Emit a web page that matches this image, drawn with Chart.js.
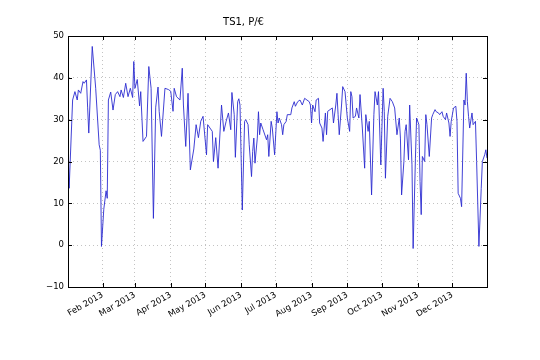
<!DOCTYPE html>
<html>
<head>
<meta charset="utf-8">
<script src="https://cdn.jsdelivr.net/npm/chart.js@4"></script>
<style>
  html, body { margin: 0; padding: 0; background: #fff; }
</style>
</head>
<body>
<canvas id="ts1" width="540" height="360"></canvas>
<script>
// Day of year 2013 (Jan 1 = 0) and price
const days = [
  1, 2, 5, 7, 9, 10, 12, 14, 15, 17, 18, 19, 22, 25, 28, 29, 30, 32, 34, 35,
  36, 38, 40, 42, 44, 46, 47, 49, 51, 53, 55, 57, 58, 59, 61, 63, 64, 66, 69, 71,
  73, 75, 77, 79, 80, 82, 85, 88, 90, 92, 93, 95, 98, 100, 101, 103, 105, 107, 110, 112,
  114, 116, 118, 121, 122, 124, 126, 127, 129, 131, 134, 136, 138, 140, 142, 143, 145, 146, 148, 149,
  150, 152, 154, 155, 157, 158, 160, 161, 162, 163, 165, 166, 167, 168, 170, 173, 174, 175, 177, 178,
  180, 182, 183, 184, 186, 187, 188, 190, 191, 194, 195, 197, 198, 200, 202, 204, 206, 208, 210, 211,
  212, 213, 215, 216, 218, 219, 221, 222, 224, 225, 226, 228, 230, 231, 233, 234, 235, 236, 238, 239,
  241, 243, 245, 246, 247, 248, 250, 251, 253, 254, 256, 258, 259, 261, 262, 264, 266, 267, 269, 270,
  271, 272, 274, 275, 276, 278, 280, 282, 284, 286, 288, 289, 290, 292, 293, 294, 296, 297, 299, 300,
  302, 303, 305, 306, 307, 308, 310, 311, 312, 314, 316, 317, 319, 320, 322, 323, 325, 326, 328, 329,
  331, 332, 333, 335, 337, 338, 339, 341, 342, 344, 345, 346, 347, 348, 349, 351, 352, 354, 355, 357,
  359, 360, 362, 363, 364
];
const prices = [
  24.8, 13.6, 34.7, 36.7, 34.7, 37.1, 36.3, 39.1, 38.7, 39.5, 33, 26.8, 47.5, 37.5, 24, 22.7, -0.3, 8.6, 13, 11.2,
  34.7, 36.6, 32.3, 36, 36.7, 35.5, 37.1, 35.3, 38.7, 35.5, 37.5, 35.3, 43.9, 37.5, 39.6, 33.3, 36.7, 24.8, 26, 42.7,
  37.5, 6.4, 33, 37.8, 32, 26, 37.5, 37.2, 36.8, 32, 37.5, 35.5, 34.7, 42.3, 33.5, 23.6, 36.3, 18, 23, 28.8,
  25.7, 29.6, 30.8, 21.6, 28.8, 28, 27.2, 20, 25.7, 18.4, 33.5, 27.2, 29.6, 31.6, 27.6, 36.5, 31.2, 21, 34.3, 35,
  33.5, 8.4, 29.6, 30, 28.8, 24, 16.4, 22.4, 25.6, 19.6, 25.6, 31.9, 26.4, 29.2, 27.6, 25.2, 26.4, 21.2, 29.6, 28,
  21.6, 31.9, 29.2, 30.4, 28.8, 26.4, 28.8, 29.6, 31.2, 31.2, 32.8, 34.3, 33.2, 34.3, 34.7, 33.5, 35.1, 34.7, 34.3, 33.5,
  29.2, 33.5, 31.9, 34.7, 35.1, 29.2, 28, 24.8, 31.6, 26.4, 32, 32.4, 32.8, 29.2, 33.5, 36.3, 31.2, 26.4, 33.5, 37.9,
  36.7, 30.4, 27.2, 36.7, 35.5, 30.4, 30.8, 32.8, 30.4, 36, 28, 18.4, 31.2, 27.2, 29.6, 12, 31.2, 36.7, 33.5, 36.7,
  28, 19.2, 37.5, 32, 16, 30.8, 35.1, 34.3, 32.8, 26.4, 30.4, 25.6, 12, 20, 27.2, 28.8, 20.4, 33.5, 19.2, -0.8,
  20.8, 30.4, 28.8, 15.2, 7.3, 21.2, 20, 31.2, 28.8, 21.2, 30.4, 31.2, 32.4, 31.9, 31.6, 31.2, 31.9, 30.8, 30, 31.6,
  29.2, 26, 29.6, 32.8, 33.2, 29.6, 12.4, 11.2, 9.2, 34.7, 33.5, 41.1, 34.3, 30.8, 28, 31.6, 28.8, 29.6, 20, -0.3,
  13.6, 20, 21.6, 22.8, 20.8
];

// Month ticks (first day of month, day of year)
const monthDays = [31, 59, 90, 120, 151, 181, 212, 243, 273, 304, 334];
const monthLabels = ['Feb 2013', 'Mar 2013', 'Apr 2013', 'May 2013', 'Jun 2013', 'Jul 2013',
  'Aug 2013', 'Sep 2013', 'Oct 2013', 'Nov 2013', 'Dec 2013'];
const yMin = -10;
const yMax = 50;

const points = days.map((d, i) => ({ x: d, y: prices[i] }));

// Frame around the plot area and small inward tick marks (matplotlib style)
const framePlugin = {
  id: 'frame',
  afterDraw(chart) {
    const { ctx, chartArea: a, scales } = chart;
    ctx.save();
    ctx.strokeStyle = '#000';
    ctx.lineWidth = 1;
    ctx.beginPath();
    for (const t of scales.x.ticks) {
      const px = Math.round(scales.x.getPixelForValue(t.value)) + 0.5;
      ctx.moveTo(px, a.bottom); ctx.lineTo(px, a.bottom - 4);
      ctx.moveTo(px, a.top); ctx.lineTo(px, a.top + 4);
    }
    for (const t of scales.y.ticks) {
      const py = Math.round(scales.y.getPixelForValue(t.value)) + 0.5;
      ctx.moveTo(a.left, py); ctx.lineTo(a.left + 4, py);
      ctx.moveTo(a.right, py); ctx.lineTo(a.right - 4, py);
    }
    ctx.stroke();
    ctx.strokeRect(Math.round(a.left) + 0.5, Math.round(a.top) + 0.5,
      Math.round(a.right - a.left), Math.round(a.bottom - a.top));
    ctx.restore();
  },
};

const font = { family: 'DejaVu Sans', size: 8.5 };

new Chart(document.getElementById('ts1').getContext('2d'), {
  type: 'line',
  data: {
    datasets: [
      {
        label: 'TS1',
        data: points,
        borderColor: '#2b2bd0',
        borderWidth: 0.9,
        pointRadius: 0,
        tension: 0,
        fill: false,
      },
    ],
  },
  options: {
    responsive: false,
    animation: false,
    layout: { padding: { left: 0, right: 53, top: 0, bottom: 0 } },
    plugins: {
      legend: { display: false },
      tooltip: { enabled: false },
      title: {
        display: true,
        text: 'TS1, P/€',
        color: '#000',
        font: { family: 'DejaVu Sans', size: 10, weight: 'normal' },
        padding: { top: 16, bottom: 8 },
      },
    },
    scales: {
      x: {
        type: 'linear',
        min: 1,
        max: 364,
        afterBuildTicks: (scale) => {
          scale.ticks = monthDays.map((v) => ({ value: v }));
        },
        afterFit: (scale) => {
          scale.height = 73;
        },
        ticks: {
          color: '#000',
          font,
          minRotation: 30,
          maxRotation: 30,
          padding: 3,
          callback: (value) => monthLabels[monthDays.indexOf(value)],
        },
        grid: {
          color: 'rgba(0,0,0,0.4)',
          lineWidth: 0.6,
          drawTicks: false,
        },
        border: { display: true, color: '#000', dash: [1, 3] },
      },
      y: {
        min: yMin,
        max: yMax,
        afterFit: (scale) => {
          scale.width = 68;
        },
        ticks: {
          color: '#000',
          font,
          stepSize: 10,
          padding: 4,
          callback: (value) => String(value).replace('-', '\u2212'),
        },
        grid: {
          color: 'rgba(0,0,0,0.4)',
          lineWidth: 0.6,
          drawTicks: false,
        },
        border: { display: true, color: '#000', dash: [1, 3] },
      },
    },
  },
  plugins: [framePlugin],
});
</script>
</body>
</html>
